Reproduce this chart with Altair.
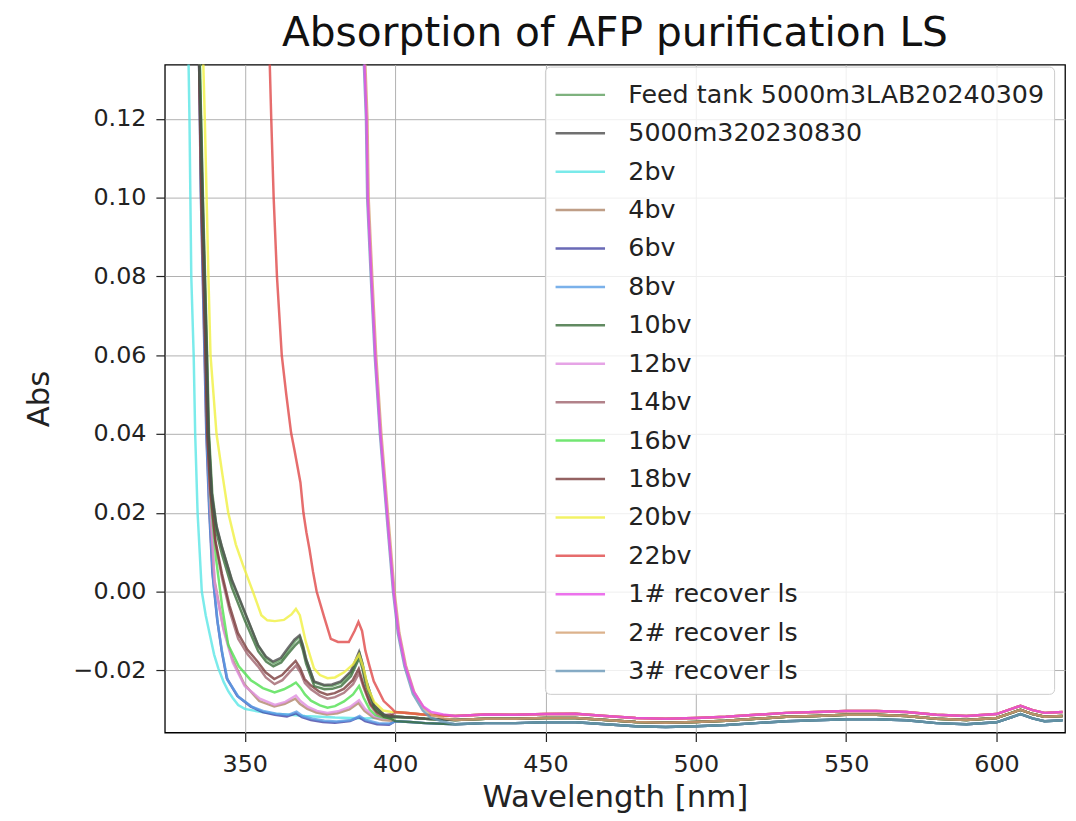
import altair as alt
import pandas as pd

SERIES = ["Feed tank 5000m3LAB20240309", "5000m320230830", "2bv", "4bv", "6bv", "8bv",
          "10bv", "12bv", "14bv", "16bv", "18bv", "20bv", "22bv",
          "1# recover ls", "2# recover ls", "3# recover ls"]
COLORS = ["#5f9f5f", "#4d4d4d", "#5ae6e6", "#b0866a", "#4545a5", "#5a9ee6",
          "#3a6e3a", "#e08ee0", "#a0646e", "#50e050", "#7a3c3c", "#f0f040", "#e04848",
          "#e850e8", "#d4a070", "#6a98b8"]
OPACITIES = [0.8, 0.8, 0.8, 0.8, 0.8, 0.8, 0.8, 0.8, 0.8, 0.8, 0.8, 0.8, 0.8, 0.5, 0.6, 0.7]
DRAW_ORDER = [2, 4, 5, 3, 7, 9, 8, 10, 0, 6, 1, 11, 12, 14, 15, 13]

# baseline bands (> 400 nm)
TAIL_WL = [400, 405, 410, 420, 430, 440, 450, 460, 470, 480, 490, 500, 510, 520, 530,
           540, 550, 560, 570, 580, 590, 600, 605, 608, 612, 616, 622]
TAIL_HIGH = [-0.0306, -0.0309, -0.0313, -0.0316, -0.0312, -0.0313, -0.0311, -0.0310, -0.0316,
             -0.0321, -0.0323, -0.0321, -0.0318, -0.0313, -0.0308, -0.0306, -0.0303, -0.0303,
             -0.0306, -0.0313, -0.0316, -0.0311, -0.0298, -0.0290, -0.0301, -0.0308, -0.0306]
TAIL_MID = [-0.0318, -0.0320, -0.0323, -0.0326, -0.0323, -0.0323, -0.0321, -0.0321, -0.0326,
            -0.0331, -0.0333, -0.0331, -0.0328, -0.0323, -0.0318, -0.0316, -0.0313, -0.0313,
            -0.0316, -0.0323, -0.0326, -0.0321, -0.0308, -0.0300, -0.0311, -0.0318, -0.0316]
TAIL_LOW = [-0.0329, -0.0331, -0.0334, -0.0337, -0.0334, -0.0334, -0.0332, -0.0332, -0.0337,
            -0.0342, -0.0344, -0.0342, -0.0339, -0.0334, -0.0329, -0.0327, -0.0324, -0.0324,
            -0.0327, -0.0334, -0.0337, -0.0332, -0.0319, -0.0311, -0.0322, -0.0329, -0.0327]

FEED_WL = [334.7, 335.0, 335.5, 336.1, 336.8, 337.5, 338.1, 339.2, 340.7, 342.5, 345.8, 350.2,
           354.6, 357.2, 359.6, 362.2, 364.5, 366.7, 368.4, 369.4, 370.5, 373.2, 376.6, 379.2,
           382.1, 385.4, 387.0, 388.2, 389.2, 390.3, 393.1, 396.4, 398.7]
FEED_ABS = [0.160, 0.134, 0.120, 0.100, 0.080, 0.060, 0.040, 0.025, 0.016, 0.0110, 0.0025,
            -0.0058, -0.0140, -0.0170, -0.0182, -0.0172, -0.0148, -0.0126, -0.0114, -0.0138,
            -0.0174, -0.0231, -0.0240, -0.0239, -0.0231, -0.0206, -0.0178, -0.0157, -0.0184,
            -0.0224, -0.0290, -0.0314, -0.0319]

GRAY_WL = [334.5, 334.8, 335.3, 335.9, 336.6, 337.3, 337.9, 339.0, 340.5, 342.3, 345.6, 350.0,
           354.4, 357.0, 359.4, 362.0, 364.3, 366.5, 368.2, 369.2, 370.3, 373.0, 376.4, 379.0,
           381.9, 385.2, 386.8, 388.0, 389.0, 390.1, 392.9, 396.2, 398.5]
GRAY_ABS = [0.160, 0.134, 0.120, 0.100, 0.080, 0.060, 0.040, 0.025, 0.017, 0.0116, 0.0032,
            -0.0052, -0.0136, -0.0165, -0.0178, -0.0168, -0.0144, -0.0122, -0.0111, -0.0135,
            -0.0170, -0.0228, -0.0237, -0.0236, -0.0228, -0.0203, -0.0175, -0.0153, -0.0180,
            -0.0220, -0.0287, -0.0312, -0.0318]

CYAN_WL = [330.9, 331.3, 331.6, 332.2, 333.0, 333.5, 334.3, 335.7, 337.0, 338.4, 339.8, 341.2,
           343.0, 344.5, 346.0, 347.8, 350.0, 355.0, 360.0, 365.0, 370.0, 380.0, 390.0]
CYAN_ABS = [0.160, 0.134, 0.120, 0.080, 0.060, 0.040, 0.020, 0.000, -0.006, -0.011, -0.016,
            -0.0195, -0.0230, -0.0253, -0.0270, -0.0288, -0.0298, -0.0305, -0.0310, -0.0313,
            -0.0316, -0.0320, -0.0322]

BV4_WL = [334.6, 334.9, 335.6, 336.3, 337.0, 337.6, 338.6, 339.9, 342.8, 345.8, 349.8, 354.8,
          359.8, 363.3, 366.8, 368.3, 370.8, 373.8, 377.3, 380.8, 384.8, 387.8, 389.8, 392.8,
          395.8, 398.8]
BV4_ABS = [0.160, 0.134, 0.100, 0.080, 0.060, 0.040, 0.020, 0.003, -0.009, -0.017, -0.0235,
           -0.0278, -0.0292, -0.0285, -0.0272, -0.0285, -0.0298, -0.0307, -0.0312, -0.0309,
           -0.0299, -0.0283, -0.0303, -0.0320, -0.0326, -0.0328]

BV6_WL = [334.5, 334.8, 335.4, 336.0, 336.6, 337.2, 338.2, 339.2, 340.8, 342.3, 344.0, 347.5,
          352.0, 356.0, 360.0, 364.0, 367.0, 369.0, 372.0, 376.0, 380.0, 385.0, 388.0, 390.0,
          394.0, 398.0]
BV6_ABS = [0.160, 0.134, 0.100, 0.080, 0.060, 0.040, 0.020, 0.005, -0.007, -0.015, -0.0220,
           -0.0265, -0.0292, -0.0306, -0.0313, -0.0317, -0.0309, -0.0319, -0.0326, -0.0331,
           -0.0333, -0.0329, -0.0319, -0.0329, -0.0337, -0.0338]

BV8_WL = [334.6, 334.9, 335.5, 336.1, 336.7, 337.3, 338.3, 339.4, 341.0, 342.6, 344.3, 348.0,
          352.5, 356.5, 360.5, 364.5, 367.2, 369.2, 372.5, 376.5, 380.5, 385.5, 388.2, 390.2,
          394.5, 398.5]
BV8_ABS = [0.160, 0.134, 0.100, 0.080, 0.060, 0.040, 0.020, 0.004, -0.008, -0.016, -0.0225,
           -0.0268, -0.0293, -0.0304, -0.0310, -0.0313, -0.0305, -0.0316, -0.0323, -0.0328,
           -0.0330, -0.0326, -0.0316, -0.0326, -0.0334, -0.0335]

BV10_WL = [334.6, 334.9, 335.4, 336.0, 336.7, 337.4, 338.0, 339.1, 340.6, 342.4, 345.7, 350.1,
           354.5, 357.1, 359.5, 362.1, 364.4, 366.6, 368.3, 369.3, 370.4, 373.1, 376.5, 379.1,
           382.0, 385.3, 386.9, 388.1, 389.1, 390.2, 393.0, 396.3, 398.6]
BV10_ABS = [0.160, 0.134, 0.120, 0.100, 0.080, 0.060, 0.040, 0.024, 0.015, 0.0095, 0.0010,
            -0.0075, -0.0152, -0.0178, -0.0190, -0.0180, -0.0158, -0.0138, -0.0125, -0.0148,
            -0.0183, -0.0240, -0.0248, -0.0247, -0.0240, -0.0215, -0.0188, -0.0168, -0.0195,
            -0.0235, -0.0295, -0.0318, -0.0323]

BV12_WL = [334.7, 335.0, 335.7, 336.4, 337.1, 337.7, 338.7, 340.0, 343.0, 346.0, 350.0, 355.0,
           360.0, 363.5, 367.0, 368.5, 371.0, 374.0, 377.5, 381.0, 385.0, 388.0, 390.0, 393.0,
           396.0, 399.0]
BV12_ABS = [0.160, 0.134, 0.100, 0.080, 0.060, 0.040, 0.020, 0.002, -0.010, -0.018, -0.0240,
            -0.0272, -0.0288, -0.0280, -0.0264, -0.0278, -0.0293, -0.0303, -0.0308, -0.0304,
            -0.0293, -0.0276, -0.0298, -0.0316, -0.0322, -0.0320]

BV14_WL = [334.6, 334.9, 335.6, 336.3, 337.0, 337.6, 338.6, 340.3, 342.5, 345.0, 347.8, 351.0,
           354.4, 357.0, 359.9, 362.5, 365.0, 367.0, 368.5, 370.0, 372.0, 375.0, 377.5, 380.0,
           383.0, 386.0, 388.0, 389.5, 391.8, 394.0, 396.2, 398.5]
BV14_ABS = [0.160, 0.134, 0.100, 0.080, 0.060, 0.040, 0.025, 0.012, 0.0032, -0.005, -0.012,
            -0.0160, -0.0190, -0.0218, -0.0235, -0.0225, -0.0204, -0.0188, -0.0205, -0.0232,
            -0.0248, -0.0264, -0.0272, -0.0268, -0.0257, -0.0235, -0.0207, -0.0243, -0.0289,
            -0.0310, -0.0318, -0.0316]

BV16_WL = [334.8, 335.1, 335.8, 336.5, 337.2, 337.8, 338.8, 340.5, 342.5, 344.5, 348.0, 352.0,
           356.0, 359.9, 363.0, 365.5, 367.0, 368.5, 370.0, 372.0, 375.0, 377.5, 380.0, 383.0,
           386.0, 388.0, 389.5, 391.5, 393.5, 396.0, 398.5]
BV16_ABS = [0.160, 0.134, 0.100, 0.080, 0.060, 0.040, 0.022, 0.008, -0.004, -0.0136, -0.0190,
            -0.0225, -0.0245, -0.0256, -0.0248, -0.0238, -0.0231, -0.0244, -0.0261, -0.0277,
            -0.0289, -0.0295, -0.0291, -0.0279, -0.0261, -0.0240, -0.0269, -0.0299, -0.0314,
            -0.0320, -0.0321]

BV18_WL = [334.5, 334.8, 335.5, 336.2, 336.9, 337.5, 338.5, 340.2, 342.4, 344.9, 347.7, 350.9,
           354.3, 356.9, 359.8, 362.4, 364.9, 366.9, 368.4, 369.9, 371.9, 374.9, 377.4, 379.9,
           382.9, 385.9, 387.9, 389.4, 391.7, 393.9, 396.1, 398.4]
BV18_ABS = [0.160, 0.134, 0.100, 0.080, 0.060, 0.040, 0.026, 0.013, 0.0045, -0.0035, -0.0105,
            -0.0148, -0.0178, -0.0205, -0.0222, -0.0212, -0.0192, -0.0176, -0.0194, -0.0222,
            -0.0238, -0.0255, -0.0262, -0.0258, -0.0247, -0.0225, -0.0196, -0.0235, -0.0284,
            -0.0306, -0.0314, -0.0312]

BV20_WL = [335.6, 336.2, 336.7, 337.3, 337.9, 338.6, 340.6, 342.5, 344.5, 347.0, 349.4, 352.7,
           355.5, 357.5, 360.0, 363.0, 365.5, 367.0, 368.3, 370.3, 373.0, 375.0, 377.5, 380.0,
           383.0, 386.0, 388.0, 389.5, 391.0, 393.0, 396.0, 398.5]
BV20_ABS = [0.160, 0.134, 0.120, 0.100, 0.080, 0.060, 0.040, 0.030, 0.020, 0.012, 0.0067, 0.000,
            -0.0060, -0.0073, -0.0075, -0.0072, -0.0058, -0.0044, -0.0060, -0.0128, -0.0195,
            -0.0212, -0.0220, -0.0218, -0.0205, -0.0185, -0.0160, -0.0195, -0.0245, -0.0280,
            -0.0302, -0.0305]

BV22_WL = [358.0, 358.3, 358.8, 359.6, 360.7, 362.3, 363.8, 365.4, 366.5, 368.5, 369.5, 370.5,
           371.5, 372.7, 373.9, 376.4, 378.6, 381.0, 384.6, 386.5, 387.8, 389.0, 390.1, 391.5,
           392.9, 396.2, 399.0]
BV22_ABS = [0.160, 0.134, 0.120, 0.100, 0.080, 0.060, 0.050, 0.0403, 0.036, 0.0277, 0.020,
            0.015, 0.0108, 0.005, 0.000, -0.0065, -0.0120, -0.0128, -0.0128, -0.0100, -0.0077,
            -0.0100, -0.0150, -0.0190, -0.0228, -0.0278, -0.0298]

REC1_WL = [389.3, 389.8, 390.5, 390.9, 392.1, 393.4, 395.1, 397.3, 399.5, 401.1, 403.3, 406.1,
           409.4, 412.0, 416.0]
REC1_ABS = [0.160, 0.134, 0.120, 0.100, 0.080, 0.060, 0.0403, 0.020, 0.000, -0.0102, -0.0186,
            -0.0253, -0.0292, -0.0306, -0.0312]
REC2_WL = [389.6, 390.1, 390.8, 391.2, 392.4, 393.7, 395.4, 397.6, 399.8, 401.4, 403.6, 406.4,
           409.7, 412.3, 416.3]
REC2_ABS = [0.160, 0.134, 0.120, 0.100, 0.080, 0.060, 0.0403, 0.020, 0.000, -0.0104, -0.0188,
            -0.0256, -0.0297, -0.0314, -0.0322]
REC3_WL = [389.1, 389.6, 390.3, 390.7, 391.9, 393.2, 394.9, 397.1, 399.3, 400.9, 403.1, 405.9,
           409.2, 411.8, 415.8]
REC3_ABS = [0.160, 0.134, 0.120, 0.100, 0.080, 0.060, 0.0403, 0.020, 0.000, -0.0106, -0.0190,
            -0.0260, -0.0302, -0.0320, -0.0330]

HEADS = [(FEED_WL, FEED_ABS, TAIL_MID), (GRAY_WL, GRAY_ABS, TAIL_MID),
         (CYAN_WL, CYAN_ABS, TAIL_MID), (BV4_WL, BV4_ABS, TAIL_MID),
         (BV6_WL, BV6_ABS, TAIL_LOW), (BV8_WL, BV8_ABS, TAIL_LOW),
         (BV10_WL, BV10_ABS, TAIL_LOW), (BV12_WL, BV12_ABS, TAIL_HIGH),
         (BV14_WL, BV14_ABS, TAIL_HIGH), (BV16_WL, BV16_ABS, TAIL_MID),
         (BV18_WL, BV18_ABS, TAIL_MID), (BV20_WL, BV20_ABS, TAIL_HIGH),
         (BV22_WL, BV22_ABS, TAIL_HIGH), (REC1_WL, REC1_ABS, TAIL_HIGH),
         (REC2_WL, REC2_ABS, TAIL_MID), (REC3_WL, REC3_ABS, TAIL_LOW)]

rows = []
for k in DRAW_ORDER:
    name = SERIES[k]
    wl, ab, tail = HEADS[k]
    for w, a in zip(wl, ab):
        rows.append({"series": name, "k": k, "wl": w, "abs": a})
    for w, a in zip(TAIL_WL, tail):
        if w > wl[-1]:
            rows.append({"series": name, "k": k, "wl": w, "abs": a})
df = pd.DataFrame(rows)

FONT = "DejaVu Sans"

chart = alt.Chart(df).mark_line(strokeWidth=2.5, clip=True).encode(
    x=alt.X("wl:Q",
            scale=alt.Scale(domain=[323.4, 622.8], nice=False, zero=False),
            axis=alt.Axis(title="Wavelength [nm]", values=[350, 400, 450, 500, 550, 600],
                          format="d", labelPadding=11, titlePadding=6)),
    y=alt.Y("abs:Q",
            scale=alt.Scale(domain=[-0.0358, 0.1338], nice=False, zero=False),
            axis=alt.Axis(title="Abs", values=[-0.02, 0.0, 0.02, 0.04, 0.06, 0.08, 0.10, 0.12],
                          format=".2f", labelPadding=10, titlePadding=18)),
    color=alt.Color("series:N",
                    scale=alt.Scale(domain=SERIES, range=COLORS),
                    sort=SERIES,
                    legend=alt.Legend(title=None, orient="none", legendX=383, legendY=2,
                                      symbolType="M-1,0H1.8", symbolSize=1267,
                                      symbolStrokeWidth=2.5, symbolFillColor="transparent",
                                      symbolOpacity=0.8,
                                      labelFontSize=25.5,
                                      labelFont=FONT, labelColor="#222222", labelOffset=36,
                                      labelLimit=700, rowPadding=5.7, padding=9,
                                      fillColor="rgba(255,255,255,0.8)", strokeColor="#cccccc",
                                      cornerRadius=5)),
    opacity=alt.Opacity("series:N", scale=alt.Scale(domain=SERIES, range=OPACITIES),
                        legend=None),
    detail="k:N",
).properties(
    width=907, height=673,
    title=alt.TitleParams("Absorption of AFP purification LS", fontSize=41, font=FONT,
                          fontWeight="normal", color="#111111", offset=10, anchor="middle"),
    padding={"left": 158, "top": 54, "right": 3, "bottom": 78},
    autosize=alt.AutoSizeParams(type="none"),
).configure_view(
    stroke="black", strokeWidth=1.3
).configure_axis(
    labelFont=FONT, titleFont=FONT, labelFontSize=24, titleFontSize=31,
    titleFontWeight="normal", labelColor="#222222", titleColor="#222222",
    grid=True, gridColor="#b0b0b0", gridWidth=1, domain=False,
    tickColor="#222222", tickSize=9, tickWidth=1.2,
)

chart.save("out.html", embed_options={"renderer": "svg", "actions": False})
